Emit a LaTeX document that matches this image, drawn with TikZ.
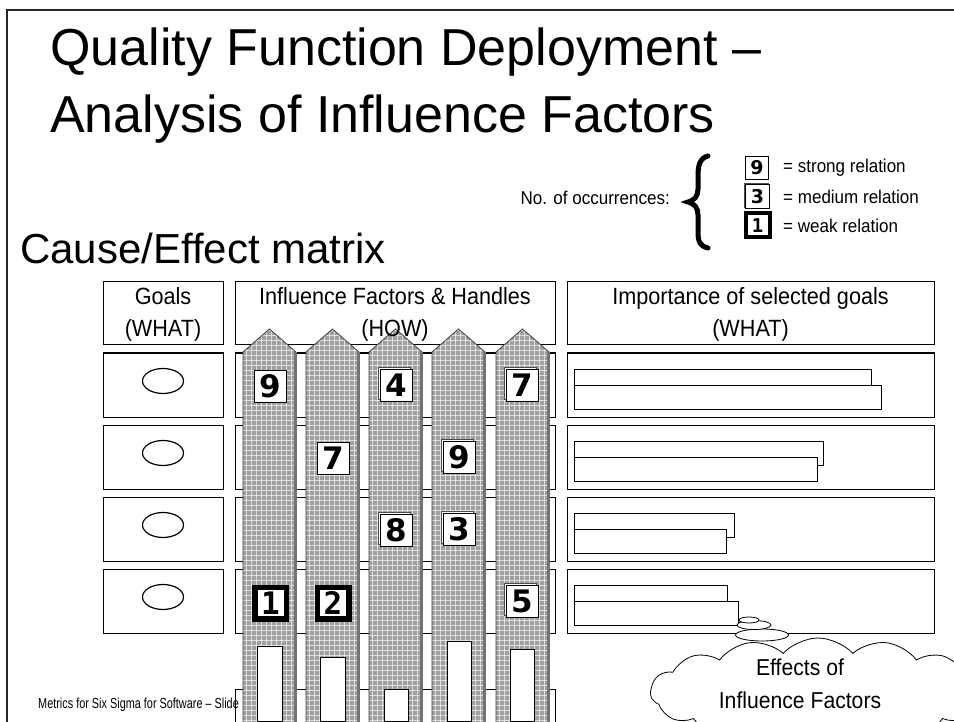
\documentclass[tikz,border=0pt]{standalone}
\usepackage{fontspec}
\setmainfont{Liberation Sans}
\newfontfamily\nf[FakeStretch=0.92]{Liberation Sans}
\newfontfamily\ff[FakeStretch=0.75]{Liberation Sans}
\newfontfamily\digitfont{DejaVu Sans}
\newfontfamily\monodigit{DejaVu Sans Mono}
\usetikzlibrary{shapes.symbols,shapes.geometric}
\definecolor{pillgray}{RGB}{160,160,160}
\tikzset{
  frameline/.style={line width=2.2pt, black!85},
  hbox/.style={draw, line width=1pt, fill=white, inner sep=0pt},
  htext/.style={font=\nf\fontsize{23.5}{32}\selectfont, align=center, inner sep=0pt},
  bar/.style={draw, line width=0.8pt, fill=white},
  gridw/.style={white, line width=0.6pt, opacity=0.65},
  pillline/.style={draw=black!75, line width=0.8pt},
  numbox/.style={draw, fill=white, line width=0.9pt, minimum size=32pt, inner sep=0pt,
     font=\digitfont\bfseries\fontsize{31}{31}\selectfont},
  shadowbox/.style={draw=black!70, fill=white, line width=0.9pt, minimum size=32pt, inner sep=0pt},
  thickbox/.style={draw, fill=white, line width=5.5pt, minimum size=31.5pt, inner sep=0pt,
     font=\monodigit\bfseries\fontsize{31}{31}\selectfont},
  lnum/.style={draw, fill=white, line width=0.9pt, minimum size=23pt, inner sep=0pt,
     font=\digitfont\bfseries\fontsize{19}{19}\selectfont},
  lthick/.style={draw, fill=white, line width=4pt, minimum size=24pt, inner sep=0pt,
     font=\monodigit\bfseries\fontsize{19}{19}\selectfont},
  ltext/.style={anchor=west, inner sep=0pt, font=\nf\fontsize{18.5}{20}\selectfont},
  goal/.style={ellipse, draw, line width=1.2pt, minimum width=41pt, minimum height=25pt, inner sep=0pt},
  bubble/.style={ellipse, draw, fill=white, line width=0.8pt, inner sep=0pt}
}
\begin{document}
\begin{tikzpicture}[x=1pt,y=-1pt]
\useasboundingbox (0,0) rectangle (954,722);
% slide frame
\draw[frameline] (7,726) -- (7,10) -- (958,10);
% titles
\node[anchor=base west, inner sep=0pt, font=\fontsize{52}{60}\selectfont] (t1) at (50,66) {Quality Function Deployment –};
\node[anchor=base west, inner sep=0pt, font=\fontsize{52}{60}\selectfont] (t2) at (50,133) {Analysis of Influence Factors};
\node[anchor=base west, inner sep=0pt, font=\fontsize{42}{50}\selectfont] (t3) at (20,264) {Cause/Effect matrix};
% legend
\node[anchor=east, inner sep=0pt, font=\nf\fontsize{18.5}{20}\selectfont] (occ) at (670,198) {No. of occurrences:};
\draw[line width=5pt, line cap=round] (708,156) .. controls (700,158) and (698,165) .. (698,176) -- (698,189) .. controls (698,196) and (695,200) .. (688,202) .. controls (695,204) and (698,208) .. (698,215) -- (698,232) .. controls (698,242) and (700,246) .. (708,248);
\node[lnum] (l9) at (757,168) {9};
\node[ltext] (l9t) at (783,168) {= strong relation};
\node[shadowbox, minimum size=24pt, xshift=-1.5pt, yshift=1.5pt] (l3s) at (757.5,196.5) {};
\node[lnum, minimum size=24pt] (l3) at (757.5,196.5) {3};
\node[ltext] (l3t) at (783,197) {= medium relation};
\node[lthick] (l1) at (757.5,225.5) {1};
\node[ltext] (l1t) at (783,226) {= weak relation};
% header boxes
\node[hbox, minimum width=120pt, minimum height=63pt] (hg) at (163,313.5) {};
\node[htext] (hgt) at (163,314) {Goals\\(WHAT)};
\node[hbox, minimum width=320pt, minimum height=63pt] (hh) at (395,313.5) {};
\node[hbox, minimum width=367pt, minimum height=63pt] (hi) at (750.5,313.5) {};
\node[htext] (hit) at (750.5,314) {Importance of selected goals\\(WHAT)};
% rows
\foreach \yc [count=\r] in {385,457,529,601} {
  \node[hbox, minimum width=120pt, minimum height=64pt] (g\r) at (163,\yc) {};
  \node[goal] (e\r) at (163,\yc-4) {};
  \node[hbox, minimum width=320pt, minimum height=64pt] (m\r) at (395,\yc) {};
  \node[hbox, minimum width=367pt, minimum height=64pt] (w\r) at (750.5,\yc) {};
}
% importance bars
\draw[bar] (574,369) rectangle (871,393);
\draw[bar] (574,385) rectangle (881,409);
\draw[bar] (574,441) rectangle (823,465);
\draw[bar] (574,457) rectangle (817,481);
\draw[bar] (574,513) rectangle (734,537);
\draw[bar] (574,529) rectangle (726,553);
\draw[bar] (574,585) rectangle (727,609);
\draw[bar] (574,601) rectangle (738,625);
% partial fifth row in middle column
\draw[line width=1pt] (235,740) -- (235,689) -- (555,689) -- (555,740);
% pillars
\foreach \L in {243,306,369,432,496} {
  \begin{scope}
    \clip (\L,352) -- (\L+26.5,329) -- (\L+53,352) -- (\L+53,730) -- (\L,730) -- cycle;
    \fill[pillgray] (\L-2,325) rectangle (\L+56,730);
    \foreach \yy in {330,335,...,729} \draw[gridw] (\L,\yy) -- (\L+53,\yy);
    \foreach \xx in {3,8,...,53} \draw[gridw] (\L+\xx,325) -- (\L+\xx,730);
  \end{scope}
  \fill[black!55] (\L+50.5,352) rectangle (\L+54,730);
  \draw[pillline] (\L,730) -- (\L,352) -- (\L+26.5,329) -- (\L+53,352);
}
% header text over pillars
\node[htext] (hht) at (395,314) {Influence Factors \& Handles\\(HOW)};
% relation numbers
\node[numbox] (n11) at (270,386) {9};
\node[shadowbox, xshift=-2pt, yshift=2pt] (n13s) at (396,385) {};
\node[numbox] (n13) at (396,385) {4};
\node[shadowbox, xshift=-2pt, yshift=2pt] (n15s) at (522,385) {};
\node[numbox] (n15) at (522,385) {7};
\node[numbox] (n22) at (333,458) {7};
\node[shadowbox, xshift=-2pt, yshift=2pt] (n24s) at (459,457) {};
\node[numbox] (n24) at (459,457) {9};
\node[shadowbox, xshift=-2pt, yshift=2pt] (n33s) at (396,530) {};
\node[numbox] (n33) at (396,530) {8};
\node[shadowbox, xshift=-2pt, yshift=2pt] (n34s) at (459,529) {};
\node[numbox] (n34) at (459,529) {3};
\node[thickbox] (n41) at (270.5,603) {1};
\node[thickbox] (n42) at (333,603) {2};
\node[shadowbox, xshift=-2pt, yshift=2pt] (n45s) at (522,601) {};
\node[numbox] (n45) at (522,601) {5};
% effect bars at bottom of pillars
\draw[bar] (257,646) rectangle (282,721);
\draw[bar] (320,657) rectangle (345,721);
\draw[bar] (384,689) rectangle (408,721);
\draw[bar] (447,641) rectangle (471,721);
\draw[bar] (510,649) rectangle (534,721);
% footer
\node[anchor=base west, inner sep=0pt, font=\ff\fontsize{14.5}{16}\selectfont] (foot) at (38,708) {Metrics for Six Sigma for Software – Slide};
% cloud with thought bubbles
\node[cloud, draw, fill=white, cloud puffs=15, cloud puff arc=95, aspect=3.3, minimum width=335pt, minimum height=108pt, line width=0.8pt] (cl) at (818,692) {};
\node[bubble, minimum width=53pt, minimum height=12pt] (b3) at (762,635) {};
\node[bubble, minimum width=34pt, minimum height=9pt] (b2) at (754,625) {};
\node[bubble, minimum width=20pt, minimum height=6pt] (b1) at (749,620) {};
\node[htext, font=\nf\fontsize{23}{33}\selectfont] (clt) at (800,684) {Effects of\\Influence Factors};
\end{tikzpicture}
\end{document}
